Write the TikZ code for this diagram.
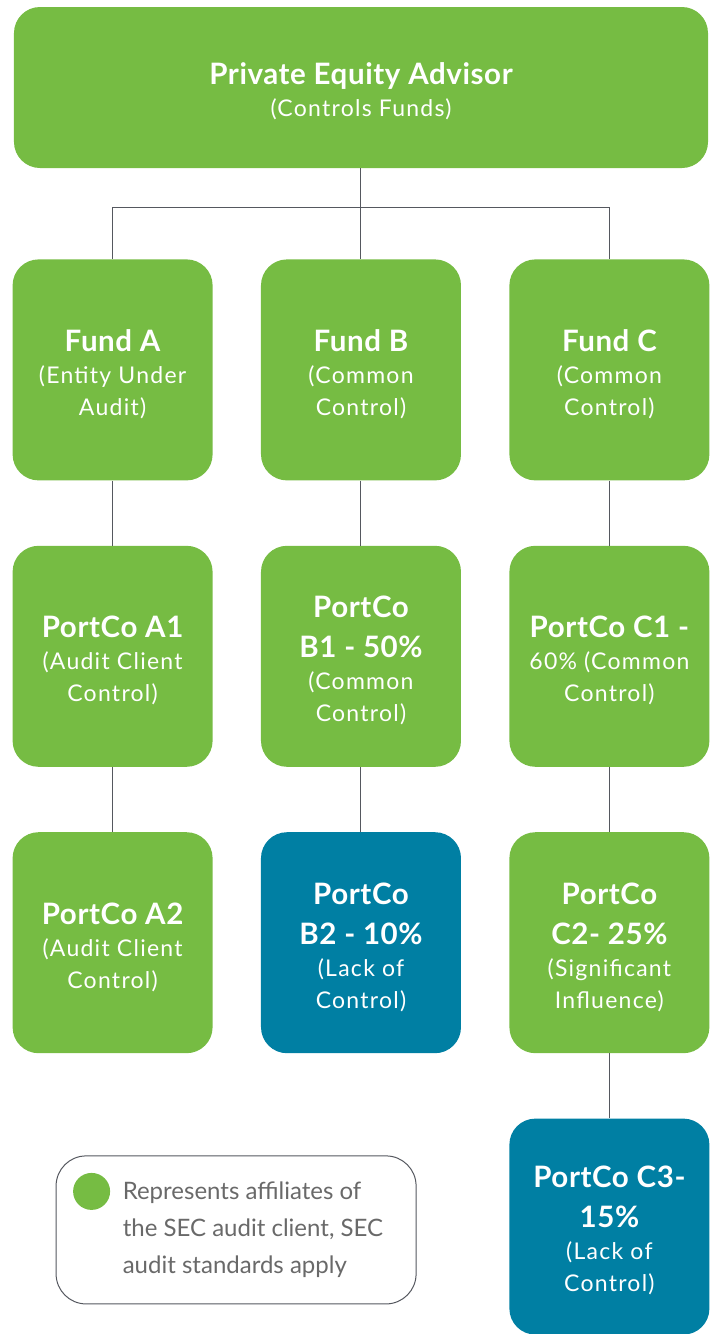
\documentclass[tikz,border=0pt]{standalone}
\usepackage{fontspec}
\setmainfont{Lato}
\newfontfamily\boxfont{Lato}[LetterSpace=5.5]
\newfontfamily\headfont{Lato Bold}[LetterSpace=2]
\usepackage{tikz}
\usetikzlibrary{positioning,calc}

\definecolor{pegreen}{RGB}{118,188,67}
\definecolor{peblue}{RGB}{0,127,163}
\definecolor{pegray}{RGB}{85,88,95}
\definecolor{legendgray}{RGB}{105,105,105}

\newcommand{\hd}[1]{{\headfont\fontsize{29.5}{38}\selectfont\rule{0pt}{30pt}#1}}

\tikzset{
	entity/.style={rectangle, rounded corners=26pt, fill=pegreen, text=white,
		minimum width=200pt, minimum height=221pt, inner sep=0pt,
		align=center, font=\boxfont\fontsize{23}{32}\selectfont},
	nocontrol/.style={entity, fill=peblue},
	link/.style={draw=pegray, line width=1pt},
	legendbox/.style={rectangle, rounded corners=30pt, draw=pegray, line width=1pt,
		minimum width=360pt, minimum height=148pt},
	legenddot/.style={circle, fill=pegreen, minimum size=37pt, inner sep=0pt},
	legendtext/.style={text=legendgray, align=left, inner sep=0pt,
		font=\fontsize{24}{37}\selectfont},
}

\begin{document}
\begin{tikzpicture}
	\useasboundingbox (-361pt,87.5pt) rectangle (353pt,-1246.5pt);

	% advisor and funds
	\node[entity, minimum width=694pt, minimum height=161pt] (pea) at (0,0)
		{\hd{Private Equity Advisor}\\(Controls Funds)};
	\node[entity, below=91pt of pea] (fb) {\hd{Fund B}\\(Common\\Control)};
	\node[entity, left=48pt of fb] (fa) {\hd{Fund A}\\(Entity Under\\Audit)};
	\node[entity, right=48pt of fb] (fc) {\hd{Fund C}\\(Common\\Control)};

	% portfolio companies
	\node[entity, below=65pt of fa] (a1) {\hd{PortCo A1}\\(Audit Client\\Control)};
	\node[entity, below=65pt of a1] (a2) {\hd{PortCo A2}\\(Audit Client\\Control)};
	\node[entity, below=65pt of fb] (b1) {\hd{PortCo}\\[8pt]\hd{B1 - 50\%}\\(Common\\Control)};
	\node[nocontrol, below=65pt of b1] (b2) {\hd{PortCo}\\[8pt]\hd{B2 - 10\%}\\(Lack of\\Control)};
	\node[entity, below=65pt of fc] (c1) {\hd{PortCo C1 -}\\60\% (Common\\Control)};
	\node[entity, below=65pt of c1] (c2) {\hd{PortCo}\\[8pt]\hd{C2- 25\%}\\(Significant\\Influence)};
	\node[nocontrol, minimum height=216pt, below=65pt of c2] (c3) {\hd{PortCo C3-}\\[8pt]\hd{15\%}\\(Lack of\\Control)};

	% links
	\coordinate (bus) at ($(pea.south)+(0,-39pt)$);
	\draw[link] (pea.south) -- (fb.north);
	\draw[link] (bus) -| (fa.north);
	\draw[link] (bus) -| (fc.north);
	\foreach \u/\v in {fa/a1,a1/a2,fb/b1,b1/b2,fc/c1,c1/c2,c2/c3}
		\draw[link] (\u) -- (\v);

	% legend
	\node[legendbox, below=102pt of a2.south, xshift=123.5pt, anchor=north] (legend) {};
	\node[legenddot] (dot) at ($(legend.north west)+(36pt,-36pt)$) {};
	\node[legendtext, anchor=west] (legtxt) at ($(legend.west)+(67pt,0)$)
		{Represents affiliates of\\the SEC audit client, SEC\\audit standards apply};
\end{tikzpicture}
\end{document}
